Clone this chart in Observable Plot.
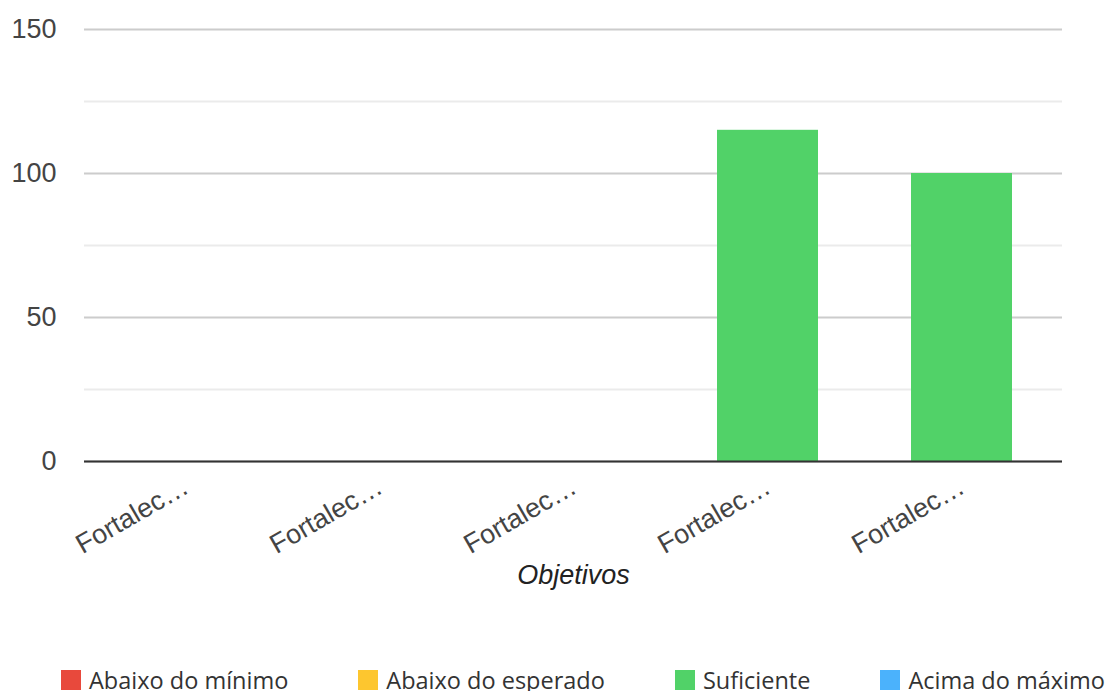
<!DOCTYPE html>
<html><head><meta charset="utf-8">
<script src="https://cdn.jsdelivr.net/npm/d3@7"></script>
<script src="https://cdn.jsdelivr.net/npm/@observablehq/plot@0.6"></script>
<style>
body{margin:0;background:#fff;}
#legend{display:flex;gap:70px;padding-left:61px;margin-top:59px;font-family:"Open Sans",sans-serif;font-size:23.5px;line-height:22px;color:#333;}
#legend .item{display:flex;align-items:center;height:22px;}
#legend .sw{width:20px;height:20px;margin-right:8px;}
</style>
</head><body><div id="chart"></div><div id="legend"></div>
<script>
const categories = ["Fortalecimento 1","Fortalecimento 2","Fortalecimento 3","Fortalecimento 4","Fortalecimento 5"];
const series = ["Abaixo do mínimo","Abaixo do esperado","Suficiente","Acima do máximo"];
const seriesColors = ["#e8493c","#fdc62f","#51d268","#4bb2fc"];
const abaixoMinimo = [0,0,0,0,0];
const abaixoEsperado = [0,0,0,0,0];
const suficiente = [0,0,0,115,100];
const acimaMaximo = [0,0,0,0,0];
const yTicks = [0,50,100,150];
const yMinorTicks = [25,75,125];

const seriesValues = [abaixoMinimo, abaixoEsperado, suficiente, acimaMaximo];
const data = [];
series.forEach((s,i)=>categories.forEach((c,j)=>data.push({category:c, series:s, value:seriesValues[i][j]})));

const chart = Plot.plot({
  width:1112, height:610,
  marginLeft:84, marginRight:50, marginTop:29, marginBottom:149,
  style:{fontFamily:"'Liberation Sans', Arial, sans-serif", color:"#444", background:"#fff"},
  x:{domain:categories, paddingInner:0.48, paddingOuter:0.26, label:null},
  y:{domain:[0,150], label:null},
  color:{domain:series, range:seriesColors},
  marks:[
    Plot.ruleY(yMinorTicks,{stroke:"#ebebeb", strokeWidth:2}),
    Plot.ruleY(yTicks,{stroke:"#cccccc", strokeWidth:2}),
    Plot.barY(data.filter(d=>d.value>0),{x:"category", y:"value", fill:"series"}),
    Plot.ruleY([0],{stroke:"#333", strokeWidth:2}),
    Plot.axisY({ticks:yTicks, tickSize:0, tickPadding:28, fontSize:27, label:null}),
    Plot.axisX({tickSize:0, tickPadding:23, tickRotate:-30, fontSize:27, label:null, tickFormat:d=>d.slice(0,8)+"…"}),
    Plot.text(["Objetivos"],{frameAnchor:"bottom", dy:122, fontSize:27, fontStyle:"italic", fill:"#222"})
  ]
});
document.getElementById("chart").append(chart);

const legend = document.getElementById("legend");
series.forEach((s,i)=>{
  const it=document.createElement("div"); it.className="item";
  const sw=document.createElement("div"); sw.className="sw"; sw.style.background=seriesColors[i];
  const t=document.createElement("span"); t.textContent=s;
  it.append(sw,t); legend.append(it);
});
</script>
</body></html>
